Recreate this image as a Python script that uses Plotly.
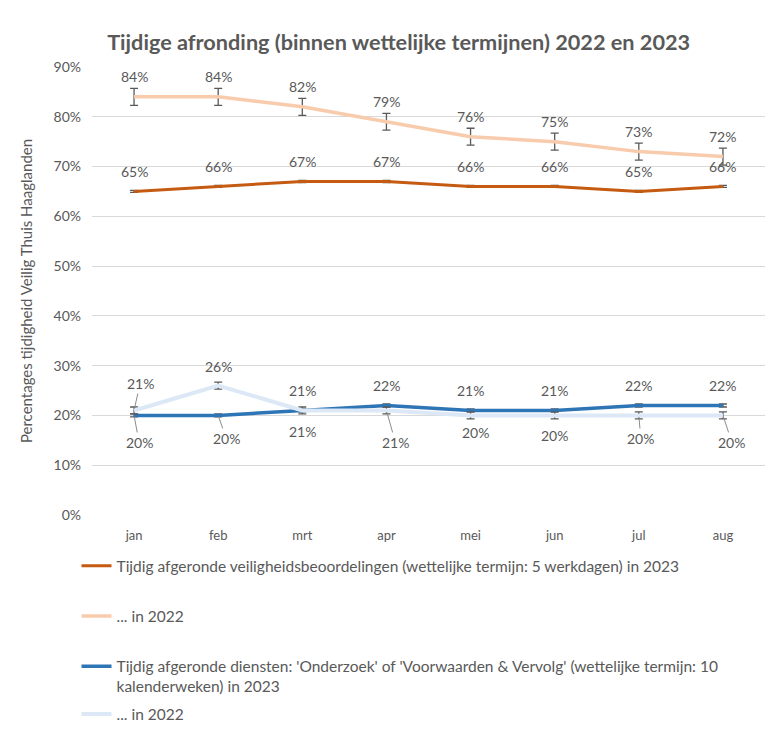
import plotly.graph_objects as go

# ---------------- data ----------------
months = ["jan", "feb", "mrt", "apr", "mei", "jun", "jul", "aug"]

veilig_2023 = [65, 66, 67, 67, 66, 66, 65, 66]
veilig_2022 = [84, 84, 82, 79, 76, 75, 73, 72]
diensten_2023 = [20, 20, 21, 22, 21, 21, 22, 22]
diensten_2022 = [21, 26, 21, 21, 20, 20, 20, 20]

err_veilig_2023 = [0.2, 0.2, 0.2, 0.2, 0.2, 0.2, 0.2, 0.2]
err_veilig_2022 = [1.7, 1.7, 1.7, 1.7, 1.7, 1.7, 1.7, 1.7]
err_diensten_2023 = [0.3, 0.3, 0.3, 0.3, 0.3, 0.3, 0.3, 0.3]
err_diensten_2022 = [0.7, 0.7, 0.7, 0.7, 0.7, 0.7, 0.7, 0.7]

names = [
    "Tijdig afgeronde veiligheidsbeoordelingen (wettelijke termijn: 5 werkdagen) in 2023",
    "... in 2022",
    "Tijdig afgeronde diensten: 'Onderzoek' of 'Voorwaarden & Vervolg' (wettelijke termijn: 10<br>kalenderweken) in 2023",
    "... in 2022",
]

title = "Tijdige afronding (binnen wettelijke termijnen) 2022 en 2023"
ytitle = "Percentages tijdigheid Veilig Thuis Haaglanden"

# ---------------- styles ----------------
FONT = "Lato"
GREY = "#595959"
colors = ["#C55A11", "#F8CBAD", "#2E75B6", "#DCE8F6"]
widths = [3, 3.5, 3.5, 4]

# label offsets (pixels; dy positive = up) and leader-line flags
lab_dx = [
    [0] * 8,
    [0] * 8,
    [5, 8, 0, 0, 0, 0, 0, 0],
    [6, 0, 0, 9, 5, 0, 2, 9],
]
lab_dy = [
    [20] * 8,
    [20] * 8,
    [-27, -23, 20, 20, 20, 20, 20, 20],
    [27, 19, -21, -32, -17, -20, -23, -27],
]
leader = [
    [False] * 8,
    [False] * 8,
    [True, True, False, False, False, False, False, False],
    [True, False, False, True, False, False, True, True],
]

series = [veilig_2023, veilig_2022, diensten_2023, diensten_2022]
errors = [err_veilig_2023, err_veilig_2022, err_diensten_2023, err_diensten_2022]
legend_ids = ["legend", "legend2", "legend3", "legend4"]

fig = go.Figure()
for i, (vals, errs) in enumerate(zip(series, errors)):
    fig.add_trace(go.Scatter(
        x=months, y=vals, mode="lines", name=names[i],
        line=dict(color=colors[i], width=widths[i]),
        error_y=dict(type="data", array=errs, visible=True,
                     color=GREY, thickness=1.3, width=4),
        legend=legend_ids[i],
        hoverinfo="skip",
    ))

annotations = []
for i, vals in enumerate(series):
    for j, v in enumerate(vals):
        if leader[i][j]:
            annotations.append(dict(
                x=months[j], y=v, xref="x", yref="y", text=f"{v}%",
                showarrow=True, arrowhead=0, arrowwidth=1, arrowcolor="#8c8c8c",
                ax=lab_dx[i][j], ay=-lab_dy[i][j], standoff=2,
                font=dict(family=FONT, size=14, color=GREY),
            ))
        else:
            annotations.append(dict(
                x=months[j], y=v, xref="x", yref="y", text=f"{v}%",
                showarrow=False, xshift=lab_dx[i][j], yshift=lab_dy[i][j],
                font=dict(family=FONT, size=14, color=GREY),
            ))

legend_y = [-0.0764, -0.1884, -0.3004, -0.4074]
legend_common = dict(
    x=-0.023, xanchor="left", yanchor="top", bgcolor="rgba(0,0,0,0)",
    font=dict(family=FONT, size=15.5, color=GREY), valign="top",
    itemclick=False, itemdoubleclick=False,
)
legend_layouts = {}
for lid, ly in zip(legend_ids, legend_y):
    legend_layouts[lid] = dict(legend_common, y=ly)

fig.update_layout(
    width=766, height=726,
    paper_bgcolor="white", plot_bgcolor="white",
    margin=dict(l=84, r=9, t=59, b=219, autoexpand=False),
    title=dict(text=f"<b>{title}</b>", x=0.51, xanchor="center", y=0.952, yanchor="middle",
               font=dict(family=FONT, size=21.7, color=GREY)),
    font=dict(family=FONT, color=GREY),
    showlegend=True,
    annotations=annotations,
    **legend_layouts,
)
fig.update_xaxes(
    type="category", range=[-0.5, 7.5], showgrid=False, showline=False,
    ticks="", tickfont=dict(family=FONT, size=13, color=GREY), fixedrange=True,
    ticklabelstandoff=11, automargin=False,
)
fig.update_yaxes(
    range=[0, 90], dtick=10, ticksuffix="%", showgrid=True, gridcolor="#d9d9d9",
    gridwidth=1, zeroline=False, showline=False,
    tickfont=dict(family=FONT, size=14, color=GREY), ticklabelstandoff=10,
    title=dict(text=ytitle, font=dict(family=FONT, size=15, color=GREY), standoff=17),
    fixedrange=True, automargin=False,
)

fig.write_html("out.html")
